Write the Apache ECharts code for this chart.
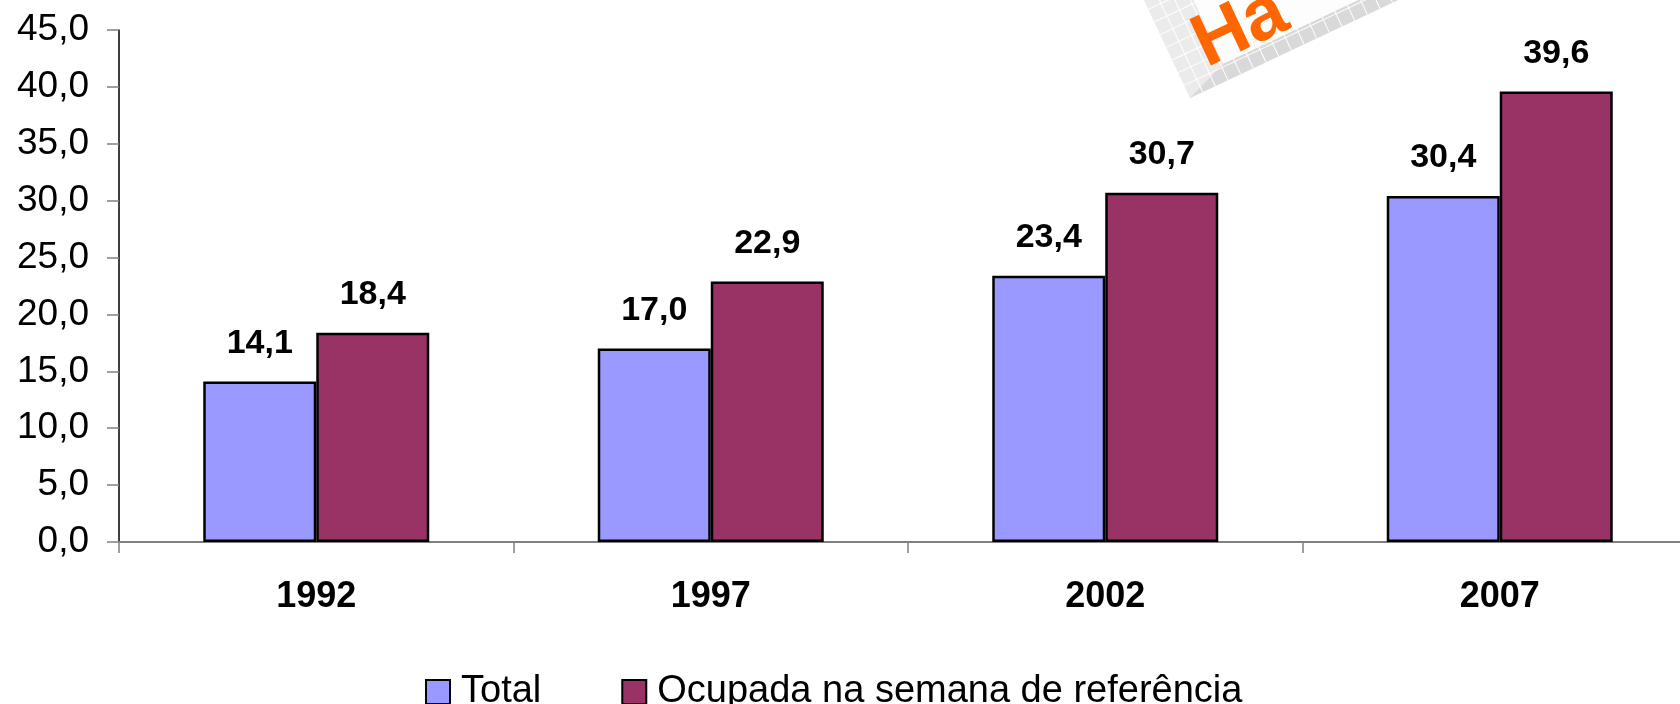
<!DOCTYPE html>
<html>
<head>
<meta charset="utf-8">
<script src="https://cdn.jsdelivr.net/npm/echarts@6/dist/echarts.min.js"></script>
<style>
  html, body { margin: 0; padding: 0; background: #fff; overflow: hidden; }
  /* wider than the window: the last category runs off the right edge in the original */
  #chart { width: 1720px; height: 704px; }
</style>
</head>
<body>
<div id="chart"></div>
<script>
// data
const years = ["1992", "1997", "2002", "2007"];
const total = [14.1, 17.0, 23.4, 30.4];
const ocupada = [18.4, 22.9, 30.7, 39.6];
const seriesNames = ["Total", "Ocupada na semana de referência"];

const FONT = "Liberation Sans, Arial, sans-serif";
const fmt = (v) => v.toFixed(1).replace(".", ",");

// stamp in the top right corner: a tilted panel, mostly cut off by the top edge
function stampGraphic() {
  const W = 420, H = 320;
  const lines = [];
  for (let x = 14; x < W; x += 14) {
    lines.push({ type: "line", shape: { x1: x, y1: 0, x2: x, y2: -H }, style: { stroke: "#ffffff", lineWidth: 1 } });
  }
  for (let y = -14; y > -H; y -= 14) {
    lines.push({ type: "line", shape: { x1: 0, y1: y, x2: W, y2: y }, style: { stroke: "#ffffff", lineWidth: 1 } });
  }
  return {
    type: "group",
    x: 1190,
    y: 98,
    rotation: 0.44,
    silent: true,
    children: [
      { type: "rect", shape: { x: 0, y: -H, width: W, height: H }, style: { fill: "#ebebeb" } },
      { type: "polygon", shape: { points: [[0, 0], [W, 0], [W, -17], [45, -17]] }, style: { fill: "#d9d9d9" } },
      ...lines,
      { type: "rect", shape: { x: 45, y: -H, width: W, height: H - 17 }, style: { fill: "#fdfdfd" } },
      {
        type: "text",
        x: 28,
        y: -4,
        style: {
          text: "Há",
          fill: "#ff6600",
          font: "bold 74px " + FONT,
          textAlign: "left",
          textVerticalAlign: "bottom",
          textShadowColor: "rgba(0,0,0,0.12)",
          textShadowOffsetX: -4,
          textShadowOffsetY: 2,
          textShadowBlur: 0,
        },
      },
    ],
  };
}

const chart = echarts.init(document.getElementById("chart"));

const barLabel = {
  show: true,
  position: "top",
  distance: 21,
  fontFamily: FONT,
  fontWeight: "bold",
  fontSize: 34,
  color: "#000",
  formatter: (p) => fmt(p.value),
};

chart.setOption({
  animation: false,
  backgroundColor: "#ffffff",
  grid: { left: 119, top: 30, width: 1578, height: 512, containLabel: false },
  legend: {
    left: 420,
    top: 668,
    itemWidth: 24,
    itemHeight: 24,
    itemGap: 80,
    icon: "rect",
    itemStyle: { borderColor: "#000", borderWidth: 2 },
    textStyle: { fontFamily: FONT, fontSize: 38, color: "#000", padding: [0, 0, 0, 6] },
    data: seriesNames,
  },
  xAxis: {
    type: "category",
    data: years,
    axisLine: { lineStyle: { color: "#808080", width: 2 } },
    axisTick: { show: true, length: 11, lineStyle: { color: "#808080", width: 1.5 } },
    axisLabel: { margin: 37, fontFamily: FONT, fontWeight: "bold", fontSize: 36, color: "#000" },
    splitLine: { show: false },
  },
  yAxis: {
    type: "value",
    min: 0,
    max: 45,
    interval: 5,
    axisLine: { show: true, lineStyle: { color: "#000", width: 1.5 } },
    axisTick: { show: true, length: 12, lineStyle: { color: "#808080", width: 1.5 } },
    axisLabel: { margin: 30, fontFamily: FONT, fontSize: 37, color: "#000", formatter: (v) => fmt(v) },
    splitLine: { show: false },
  },
  series: [
    {
      name: seriesNames[0],
      type: "bar",
      data: total,
      barWidth: 113,
      barGap: "0%",
      itemStyle: { color: "#9999ff", borderColor: "#000", borderWidth: 2.5 },
      label: barLabel,
    },
    {
      name: seriesNames[1],
      type: "bar",
      data: ocupada,
      barWidth: 113,
      itemStyle: { color: "#993366", borderColor: "#000", borderWidth: 2.5 },
      label: barLabel,
    },
  ],
  graphic: [stampGraphic()],
});
</script>
</body>
</html>
